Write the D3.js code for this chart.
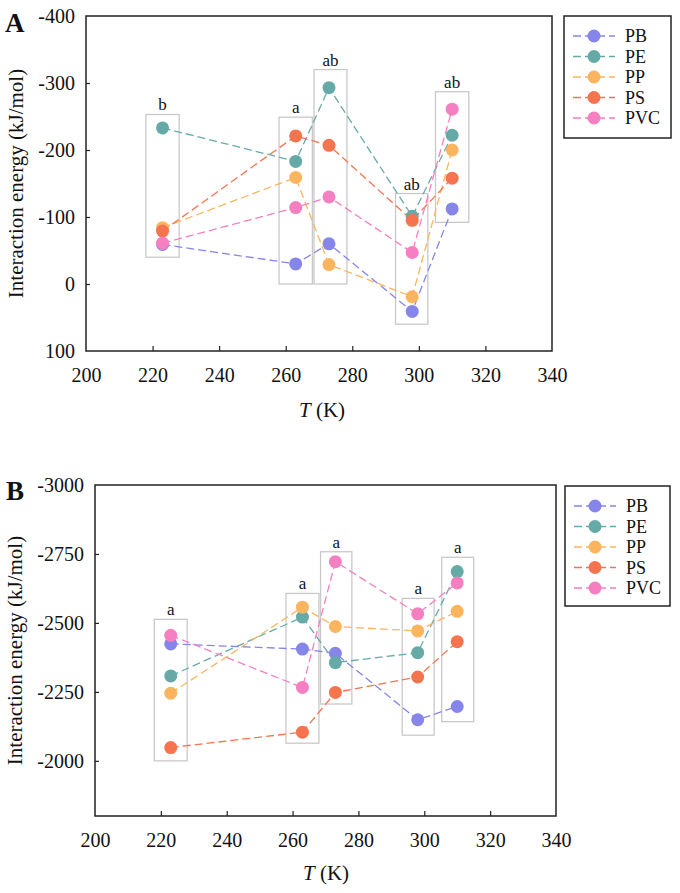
<!DOCTYPE html>
<html>
<head>
<meta charset="utf-8">
<script src="https://cdn.jsdelivr.net/npm/d3@7"></script>
<style>
  body { margin: 0; background: #fff; }
  svg text { font-family: "Liberation Serif", "Times New Roman", serif; fill: #111; }
</style>
</head>
<body>
<svg id="chart" width="680" height="893"></svg>
<script>
// ---------- data ----------
const temps = [223, 263, 273, 298, 310];
const seriesNames = ["PB", "PE", "PP", "PS", "PVC"];
const seriesColors = ["#8585ea", "#66aaa8", "#fbb55e", "#f5744f", "#f57fc1"];
const xTickValues = [200, 220, 240, 260, 280, 300, 320, 340];

// Panel A
const aPB  = [-59, -30, -60, 41, -112];
const aPE  = [-233, -183, -293, -101, -222];
const aPP  = [-84, -159, -29, 19, -200];
const aPS  = [-79, -221, -207, -95, -158];
const aPVC = [-61, -114, -130, -47, -261];
const aYTicks = [-400, -300, -200, -100, 0, 100];
const aBoxX0 = [218, 258, 268.5, 293, 305];
const aBoxX1 = [228, 268, 278.4, 302.7, 315];
const aBoxTop = [-253, -249, -320, -135, -287];
const aBoxBottom = [-40, 0, 0, 60, -92];
const aBoxLabels = ["b", "a", "ab", "ab", "ab"];

// Panel B
const bPB  = [-2424, -2405, -2390, -2149, -2197];
const bPE  = [-2308, -2521, -2356, -2392, -2686];
const bPP  = [-2245, -2557, -2487, -2471, -2542];
const bPS  = [-2048, -2104, -2248, -2304, -2432];
const bPVC = [-2455, -2266, -2722, -2533, -2645];
const bYTicks = [-3000, -2750, -2500, -2250, -2000];
const bBoxX0 = [218, 258, 268.5, 293.3, 305.3];
const bBoxX1 = [228, 268, 278, 303, 315];
const bBoxTop = [-2513, -2607, -2758, -2589, -2738];
const bBoxBottom = [-2000, -2064, -2206, -2093, -2142];
const bBoxLabels = ["a", "a", "a", "a", "a"];

// ---------- drawing ----------
const svg = d3.select("#chart");

function drawPanel(cfg) {
  const g = svg.append("g");
  const x = d3.scaleLinear().domain([200, 340]).range([cfg.left, cfg.right]);
  const y = d3.scaleLinear().domain(cfg.yDomain).range([cfg.top, cfg.bottom]);

  // boxes
  cfg.boxX0.forEach((bx, i) => {
    g.append("rect")
      .attr("x", x(bx)).attr("y", y(cfg.boxTop[i]))
      .attr("width", x(cfg.boxX1[i]) - x(bx))
      .attr("height", y(cfg.boxBottom[i]) - y(cfg.boxTop[i]))
      .attr("fill", "none").attr("stroke", "#c9c9c9").attr("stroke-width", 1.3);
    g.append("text")
      .attr("x", (x(bx) + x(cfg.boxX1[i])) / 2)
      .attr("y", y(cfg.boxTop[i]) - 4)
      .attr("text-anchor", "middle")
      .attr("font-size", 17)
      .text(cfg.boxLabels[i]);
  });

  // lines and points
  const line = d3.line().x((d, i) => x(temps[i])).y(d => y(d));
  cfg.series.forEach((vals, s) => {
    g.append("path").datum(vals)
      .attr("d", line)
      .attr("fill", "none")
      .attr("stroke", seriesColors[s])
      .attr("stroke-width", 1.3)
      .attr("stroke-dasharray", "8,4");
  });
  cfg.series.forEach((vals, s) => {
    g.selectAll(null).data(vals).enter().append("circle")
      .attr("cx", (d, i) => x(temps[i]))
      .attr("cy", d => y(d))
      .attr("r", 6.5)
      .attr("fill", seriesColors[s]);
  });

  // frame
  g.append("rect")
    .attr("x", cfg.left).attr("y", cfg.top)
    .attr("width", cfg.right - cfg.left).attr("height", cfg.bottom - cfg.top)
    .attr("fill", "none").attr("stroke", "#222").attr("stroke-width", 1.5);

  // x axis
  const xa = g.append("g").attr("transform", `translate(0,${cfg.bottom})`)
    .call(d3.axisBottom(x).tickValues(xTickValues).tickSize(-5).tickPadding(17).tickFormat(d3.format("d")));
  xa.select(".domain").remove();
  xa.selectAll(".tick line").attr("stroke", "#222").attr("stroke-width", 1.2);
  xa.selectAll(".tick").filter(d => d === 200 || d === 340).select("line").remove();
  xa.selectAll("text").attr("font-size", 20).attr("font-family", "Liberation Serif").attr("fill", "#111");

  // y axis
  const ya = g.append("g").attr("transform", `translate(${cfg.left},0)`)
    .call(d3.axisLeft(y).tickValues(cfg.yTicks).tickSize(-4).tickPadding(11).tickFormat(d3.format("d")));
  ya.select(".domain").remove();
  ya.selectAll(".tick line").attr("stroke", "#222").attr("stroke-width", 1.2);
  ya.selectAll(".tick").filter(d => d === cfg.yDomain[0] || d === cfg.yDomain[1]).select("line").remove();
  ya.selectAll("text").attr("font-size", 20).attr("font-family", "Liberation Serif").attr("fill", "#111")
    .text(d => (d < 0 ? "-" + Math.abs(d) : d));

  // axis titles
  g.append("text")
    .attr("transform", `translate(${cfg.yTitleX},${(cfg.top + cfg.bottom) / 2}) rotate(-90)`)
    .attr("text-anchor", "middle").attr("dominant-baseline", "central")
    .attr("font-size", 21)
    .text("Interaction energy (kJ/mol)");
  const xt = g.append("text")
    .attr("x", cfg.xTitleX).attr("y", cfg.xTitleY)
    .attr("text-anchor", "middle").attr("font-size", 21);
  xt.append("tspan").attr("font-style", "italic").text("T");
  xt.append("tspan").text(" (K)");

  // panel letter
  g.append("text")
    .attr("x", cfg.letterX).attr("y", cfg.letterY)
    .attr("font-size", 27).attr("font-weight", "bold")
    .text(cfg.letter);

  // legend
  const lg = g.append("g");
  lg.append("rect")
    .attr("x", cfg.legX).attr("y", cfg.legY).attr("width", cfg.legW).attr("height", cfg.legH)
    .attr("fill", "none").attr("stroke", "#222").attr("stroke-width", 1.5);
  seriesNames.forEach((name, s) => {
    const ly = cfg.legY + 20 + s * 20.5;
    lg.append("line")
      .attr("x1", cfg.legX + 9).attr("x2", cfg.legX + 51)
      .attr("y1", ly).attr("y2", ly)
      .attr("stroke", seriesColors[s]).attr("stroke-width", 1.3)
      .attr("stroke-dasharray", "8,4").attr("stroke-dashoffset", 0);
    lg.append("circle").attr("cx", cfg.legX + 30).attr("cy", ly).attr("r", 6.5)
      .attr("fill", seriesColors[s]);
    lg.append("text").attr("x", cfg.legX + 61).attr("y", ly)
      .attr("dominant-baseline", "central").attr("font-size", 18)
      .text(name);
  });
}

drawPanel({
  left: 86, right: 552, top: 16, bottom: 351,
  yDomain: [-400, 100], yTicks: aYTicks,
  series: [aPB, aPE, aPP, aPS, aPVC],
  boxX0: aBoxX0, boxX1: aBoxX1, boxTop: aBoxTop, boxBottom: aBoxBottom, boxLabels: aBoxLabels,
  yTitleX: 16, xTitleX: 322, xTitleY: 417,
  letter: "A", letterX: 5, letterY: 32,
  legX: 564, legY: 16, legW: 107, legH: 122
});

drawPanel({
  left: 95, right: 556, top: 485, bottom: 816,
  yDomain: [-3000, -1800], yTicks: bYTicks,
  series: [bPB, bPE, bPP, bPS, bPVC],
  boxX0: bBoxX0, boxX1: bBoxX1, boxTop: bBoxTop, boxBottom: bBoxBottom, boxLabels: bBoxLabels,
  yTitleX: 15, xTitleX: 326, xTitleY: 880,
  letter: "B", letterX: 6, letterY: 500,
  legX: 565, legY: 486, legW: 105, legH: 120
});
</script>
</body>
</html>
